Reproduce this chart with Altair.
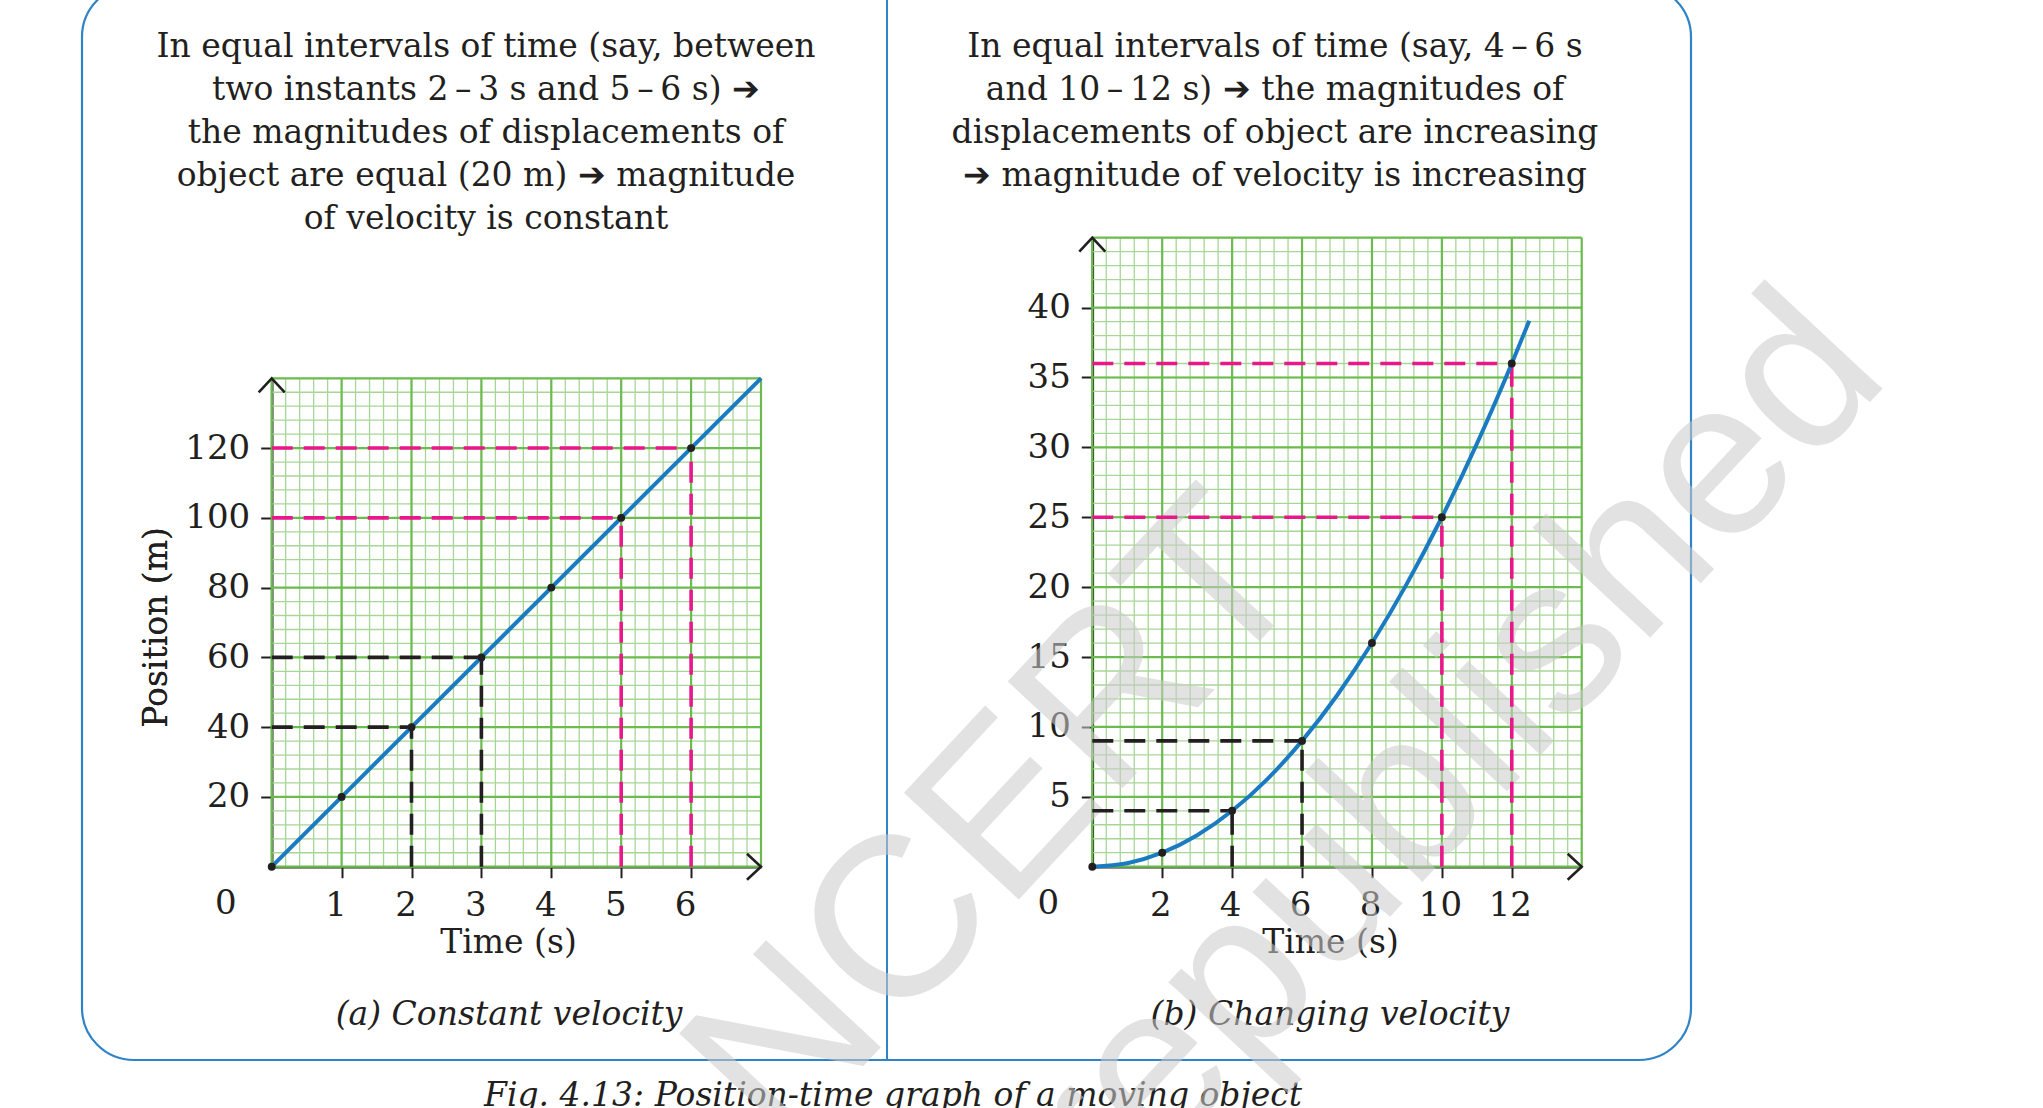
import altair as alt
import pandas as pd

W, H = 2043, 1108
INK = "#231f20"
BLUE = "#1b7bc2"
PINK = "#e8178a"
FRAME = "#2f83c6"
MINOR = "#a8d696"
MAJOR = "#6cbb4f"
SERIF = "DejaVu Serif"

# ---------------- panel (a): constant velocity ----------------
a_time = [0, 1, 2, 3, 4, 5, 6]
a_pos = [0, 20, 40, 60, 80, 100, 120]
a_line_time = [0, 7]
a_line_pos = [0, 140]
a_guide_time = [2, 3, 5, 6]
a_guide_pos = [40, 60, 100, 120]
a_guide_kind = ["black", "black", "pink", "pink"]
a_x_ticks = [1, 2, 3, 4, 5, 6]
a_y_ticks = [20, 40, 60, 80, 100, 120]
a_x_max, a_y_max = 7, 140
a_major_step = (1, 20)
a_minor_step = (0.2, 4)

# ---------------- panel (b): changing velocity ----------------
b_time = [0, 2, 4, 6, 8, 10, 12]
b_pos = [0, 1, 4, 9, 16, 25, 36]
b_curve_time = [0, 1, 2, 3, 4, 5, 6, 7, 8, 9, 10, 11, 12, 12.5]
b_curve_pos = [0, 0.25, 1, 2.25, 4, 6.25, 9, 12.25, 16, 20.25, 25, 30.25, 36, 39.06]
b_guide_time = [4, 6, 10, 12]
b_guide_pos = [4, 9, 25, 36]
b_guide_kind = ["black", "black", "pink", "pink"]
b_x_ticks = [2, 4, 6, 8, 10, 12]
b_y_ticks = [5, 10, 15, 20, 25, 30, 35, 40]
b_x_max, b_y_max = 14, 45
b_major_step = (2, 5)
b_minor_step = (0.4, 1)

# ---------------- text ----------------
ARROW = "\u2794"
a_note = [
    "In equal intervals of time (say, between",
    f"two instants 2\u2009\u2013\u20093 s and 5\u2009\u2013\u20096 s) {ARROW}",
    "the magnitudes of displacements of",
    f"object are equal (20 m) {ARROW} magnitude",
    "of velocity is constant",
]
b_note = [
    "In equal intervals of time (say, 4\u2009\u2013\u20096 s",
    f"and 10\u2009\u2013\u200912 s) {ARROW} the magnitudes of",
    "displacements of object are increasing",
    f"{ARROW} magnitude of velocity is increasing",
]
a_caption = "(a) Constant velocity"
b_caption = "(b) Changing velocity"
fig_caption = "Fig. 4.13: Position-time graph of a moving object"
x_title = "Time (s)"
y_title = "Position (m)"
stamp_lines = ["NCERT", "republished"]

one = pd.DataFrame({"k": [0]})

# pixel placement of the two plotting areas inside the page
PANELS = {
    "a": dict(x_rng=[271.7, 761.0], y_rng=[866.7, 378.3], title_x=508, cap_x=509,
              note_x=486, zero_dx=-46, label_offset=-6),
    "b": dict(x_rng=[1092.3, 1581.7], y_rng=[866.7, 237.7], title_x=1330, cap_x=1330,
              note_x=1275, zero_dx=-44, label_offset=-2),
}


def grid_frame(x_max, y_max, dx, dy):
    rows = []
    nx, ny = round(x_max / dx), round(y_max / dy)
    for i in range(nx + 1):
        g = round(i * dx, 6)
        rows.append(dict(x1=g, x2=g, y1=0, y2=y_max))
    for j in range(ny + 1):
        g = round(j * dy, 6)
        rows.append(dict(x1=0, x2=x_max, y1=g, y2=g))
    return pd.DataFrame(rows)


def guide_frame(times, poss, kinds):
    rows = []
    for t, p, k in zip(times, poss, kinds):
        rows.append(dict(x1=0, x2=t, y1=p, y2=p, kind=k))
        rows.append(dict(x1=t, x2=t, y1=0, y2=p, kind=k))
    return pd.DataFrame(rows)


def panel(key, x_max, y_max, minor, major, line_t, line_p, interp,
          dot_t, dot_p, g_t, g_p, g_k, x_ticks, y_ticks):
    cfg = PANELS[key]
    xs = alt.Scale(domain=[0, x_max], range=cfg["x_rng"], nice=False, zero=False)
    ys = alt.Scale(domain=[0, y_max], range=cfg["y_rng"], nice=False, zero=False)
    x0, y0 = cfg["x_rng"][0], cfg["y_rng"][0]

    def rules(df, **mark):
        return alt.Chart(df).mark_rule(**mark).encode(
            x=alt.X("x1:Q", scale=xs, axis=None), x2="x2:Q",
            y=alt.Y("y1:Q", scale=ys, axis=None), y2="y2:Q",
        )

    grid = [
        rules(grid_frame(x_max, y_max, *minor), color=MINOR, strokeWidth=1.3),
        rules(grid_frame(x_max, y_max, *major), color=MAJOR, strokeWidth=2.2),
    ]

    guides = alt.Chart(guide_frame(g_t, g_p, g_k)).mark_rule(
        strokeWidth=3.6, strokeDash=[21, 11]
    ).encode(
        x=alt.X("x1:Q", scale=xs, axis=None), x2="x2:Q",
        y=alt.Y("y1:Q", scale=ys, axis=None), y2="y2:Q",
        color=alt.Color("kind:N", scale=alt.Scale(domain=["black", "pink"], range=[INK, PINK]),
                        legend=None),
    )

    line = alt.Chart(pd.DataFrame({"t": line_t, "p": line_p})).mark_line(
        color=BLUE, strokeWidth=4, interpolate=interp
    ).encode(
        x=alt.X("t:Q", scale=xs, axis=None),
        y=alt.Y("p:Q", scale=ys, axis=None),
    )

    x_axis = alt.Axis(
        values=x_ticks, orient="bottom", offset=y0 - H, title=x_title,
        titleX=cfg["title_x"], titleY=76, titleAlign="center", titleBaseline="middle",
        labelOffset=cfg["label_offset"],
    )
    y_axis = alt.Axis(
        values=y_ticks, orient="left", offset=-x0, title=y_title,
        titleX=156 - x0, titleY=627, titleAngle=270, titleAlign="center",
        titleBaseline="middle",
    )
    dots = alt.Chart(pd.DataFrame({"t": dot_t, "p": dot_p})).mark_circle(
        color=INK, size=62, opacity=1
    ).encode(
        x=alt.X("t:Q", scale=xs, axis=x_axis),
        y=alt.Y("p:Q", scale=ys, axis=y_axis),
    )

    arrow_up = "M -1 1.08 L 0 0 L 1 1.08"
    arrow_right = "M -1.08 -1 L 0 0 L -1.08 1"
    arrows = []
    for t, p, shape in [(0, y_max, arrow_up), (x_max, 0, arrow_right)]:
        arrows.append(
            alt.Chart(pd.DataFrame({"t": [t], "p": [p]})).mark_point(
                shape=shape, filled=False, size=676, strokeWidth=2.6, color=INK, opacity=1
            ).encode(
                x=alt.X("t:Q", scale=xs, axis=None),
                y=alt.Y("p:Q", scale=ys, axis=None),
            )
        )

    zero = alt.Chart(pd.DataFrame({"t": [0], "p": [0], "s": ["0"]})).mark_text(
        font=SERIF, fontSize=34, color=INK, align="center", baseline="middle",
        dx=cfg["zero_dx"], dy=37,
    ).encode(
        x=alt.X("t:Q", scale=xs, axis=None),
        y=alt.Y("p:Q", scale=ys, axis=None),
        text="s:N",
    )

    return grid, [guides, line, dots] + arrows + [zero]


a_grid, a_top = panel("a", a_x_max, a_y_max, a_minor_step, a_major_step,
                      a_line_time, a_line_pos, "linear", a_time, a_pos,
                      a_guide_time, a_guide_pos, a_guide_kind, a_x_ticks, a_y_ticks)
b_grid, b_top = panel("b", b_x_max, b_y_max, b_minor_step, b_major_step,
                      b_curve_time, b_curve_pos, "monotone", b_time, b_pos,
                      b_guide_time, b_guide_pos, b_guide_kind, b_x_ticks, b_y_ticks)

# ---------------- page furniture ----------------
frame = alt.Chart(one).mark_rect(
    fill="white", fillOpacity=0, stroke=FRAME, strokeWidth=2.2, cornerRadius=52
).encode(x=alt.value(82), x2=alt.value(1691), y=alt.value(-15), y2=alt.value(1060))

divider = alt.Chart(one).mark_rule(color=FRAME, strokeWidth=2).encode(
    x=alt.value(887), y=alt.value(-20), y2=alt.value(1060)
)


def note(lines, x):
    return alt.Chart(one).mark_text(
        text=lines, font=SERIF, fontSize=33, lineHeight=43, color=INK,
        align="center", baseline="alphabetic",
    ).encode(x=alt.value(x), y=alt.value(57.3))


def italic(text, x, y):
    return alt.Chart(one).mark_text(
        text=text, font=SERIF, fontSize=33, fontStyle="italic", color=INK,
        align="center", baseline="alphabetic",
    ).encode(x=alt.value(x), y=alt.value(y))


texts = [
    note(a_note, PANELS["a"]["note_x"]),
    note(b_note, PANELS["b"]["note_x"]),
    italic(a_caption, PANELS["a"]["cap_x"], 1025),
    italic(b_caption, PANELS["b"]["cap_x"], 1025),
    italic(fig_caption, 893, 1106),
]

stamp = [
    alt.Chart(one).mark_text(
        text=txt, font="Liberation Sans", fontSize=size, angle=313, color="#cccccc",
        opacity=0.55, align="center", baseline="middle",
    ).encode(x=alt.value(x), y=alt.value(y))
    for txt, x, y, size in [(stamp_lines[0], 998, 822, 228), (stamp_lines[1], 1452, 752, 222)]
]

layers = [frame, divider] + texts + a_grid + b_grid + stamp + a_top + b_top

chart = (
    alt.layer(*layers)
    .resolve_scale(x="independent", y="independent")
    .properties(width=W, height=H, padding=0,
                autosize=alt.AutoSizeParams(type="none"), background="white")
    .configure_view(stroke=None)
    .configure_axis(
        grid=False, zindex=1,
        domainColor=INK, domainWidth=2.6,
        tickColor=INK, tickWidth=2, tickSize=11,
        labelFont=SERIF, labelFontSize=34, labelColor=INK, labelPadding=11,
        labelFlush=False, labelOverlap=False, labelBound=False,
        titleFont=SERIF, titleFontSize=33, titleFontWeight="normal", titleColor=INK,
    )
)

chart.save("out.html", embed_options={"renderer": "svg", "actions": False})
